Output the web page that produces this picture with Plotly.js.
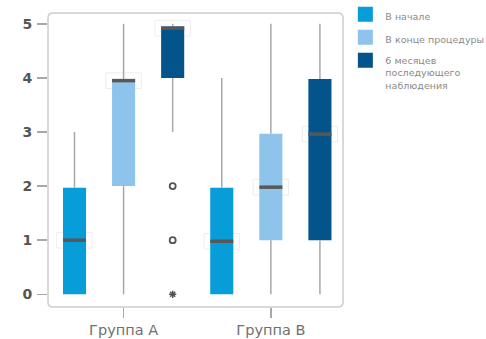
<!DOCTYPE html>
<html>
<head>
<meta charset="utf-8">
<script src="https://cdn.plot.ly/plotly-3.0.1.min.js"></script>
<style>html,body{margin:0;padding:0;background:#fff;}#chart{width:486px;height:339px;}</style>
</head>
<body>
<div id="chart"></div>
<script>
// Data
const groups = ['Группа А', 'Группа В'];
const seriesNames = ['В начале', 'В конце процедуры', '6 месяцев<br>последующего<br>наблюдения'];
const seriesColors = ['#069dd9', '#8ec4eb', '#03548b'];
// per series: [Группа А, Группа В]
const lowerFence = [[0, 0], [0, 0], [3, 0]];
const q1Values    = [[0, 0], [2, 1], [4, 1]];
const medValues   = [[1, 0.98], [3.95, 1.98], [4.92, 2.96]];
const q3Values    = [[1.97, 1.97], [3.97, 2.97], [4.95, 3.98]];
const upperFence  = [[3, 4], [5, 5], [5, 5]];
// outliers (6 месяцев, Группа А)
const outlierCircles = [2, 1];
const outlierStars = [0];

const boxWidth = 0.47;
const nS = seriesNames.length;
function pos(s, g) { return g * nS + s; }

const traces = [];
const shapes = [];
const medX = [], medY = [], whX = [], whY = [];
for (let s = 0; s < nS; s++) {
  const xs = groups.map((_, g) => pos(s, g));
  traces.push({
    type: 'box', x: xs,
    q1: q1Values[s], median: medValues[s], q3: q3Values[s],
    lowerfence: lowerFence[s], upperfence: upperFence[s],
    width: boxWidth, fillcolor: seriesColors[s],
    line: {width: 0, color: seriesColors[s]},
    whiskerwidth: 0, boxpoints: false, showlegend: false, hoverinfo: 'skip'
  });
  groups.forEach((_, g) => {
    const p = pos(s, g);
    whX.push(p, p, null, p, p, null);
    whY.push(lowerFence[s][g], q1Values[s][g], null, q3Values[s][g], upperFence[s][g], null);
    medX.push(p - boxWidth / 2, p + boxWidth / 2, null);
    medY.push(medValues[s][g], medValues[s][g], null);
    shapes.push({type: 'rect', xref: 'x', yref: 'y', layer: 'below',
      x0: p - 0.36, x1: p + 0.36, y0: medValues[s][g] - 0.145, y1: medValues[s][g] + 0.145,
      line: {color: '#ededed', width: 1}});
  });
}
traces.unshift({type: 'scatter', mode: 'lines', x: whX, y: whY,
  line: {color: '#a8a8a8', width: 1.5}, showlegend: false, hoverinfo: 'skip'});
traces.push({type: 'scatter', mode: 'lines', x: medX, y: medY,
  line: {color: '#585858', width: 3.5}, showlegend: false, hoverinfo: 'skip'});
traces.push({type: 'scatter', mode: 'markers', x: outlierCircles.map(() => pos(2, 0)), y: outlierCircles,
  marker: {symbol: 'circle-open', size: 6, color: '#555', line: {width: 1.8, color: '#555'}},
  showlegend: false, hoverinfo: 'skip'});
traces.push({type: 'scatter', mode: 'markers', x: outlierStars.map(() => pos(2, 0)), y: outlierStars,
  marker: {symbol: 'asterisk-open', size: 6, color: '#555', line: {width: 1.5, color: '#555'}},
  showlegend: false, hoverinfo: 'skip'});
// legend entries
for (let s = 0; s < nS; s++) {
  traces.push({type: 'scatter', mode: 'markers', x: [null], y: [null], name: seriesNames[s],
    legendgroup: 'g' + s,
    marker: {symbol: 'square', size: 15, color: seriesColors[s]}, hoverinfo: 'skip'});
}

// rounded frame
const rx = 5 / 295, ry = 5 / 294;
shapes.push({type: 'path', xref: 'paper', yref: 'paper', layer: 'above',
  path: `M ${rx},0 L ${1-rx},0 Q 1,0 1,${ry} L 1,${1-ry} Q 1,1 ${1-rx},1 L ${rx},1 Q 0,1 0,${1-ry} L 0,${ry} Q 0,0 ${rx},0 Z`,
  line: {color: '#cdcdcd', width: 1.5}});

const layout = {
  width: 486, height: 339,
  margin: {l: 48, r: 143, t: 12.7, b: 32.3, autoexpand: false},
  paper_bgcolor: '#fff', plot_bgcolor: '#fff',
  font: {family: 'DejaVu Sans', color: '#777'},
  xaxis: {range: [-0.54, 5.47], tickvals: [1, 4], ticktext: groups,
    showgrid: false, zeroline: false, showline: false,
    ticks: 'outside', ticklen: 10, tickwidth: 1.5, tickcolor: '#a8a8a8',
    tickfont: {family: 'DejaVu Sans', size: 14.5, color: '#707070'}},
  yaxis: {range: [-0.235, 5.2], tickvals: [0, 1, 2, 3, 4, 5],
    showgrid: false, zeroline: false, showline: false,
    ticks: 'outside', ticklen: 10, tickwidth: 1.5, tickcolor: '#a8a8a8',
    ticklabelstandoff: 2,
    tickfont: {family: 'DejaVu Sans', size: 14, color: '#555', weight: 'bold'}},
  showlegend: true,
  legend: {x: 1.008, y: 1.039, xanchor: 'left', yanchor: 'top',
    font: {family: 'DejaVu Sans', size: 9.5, color: '#8a8a8a'},
    valign: 'top', traceorder: 'grouped', tracegroupgap: 4,
    bgcolor: 'rgba(0,0,0,0)'},
  shapes: shapes
};
Plotly.newPlot('chart', traces, layout, {displayModeBar: false, staticPlot: true});
</script>
</body>
</html>
